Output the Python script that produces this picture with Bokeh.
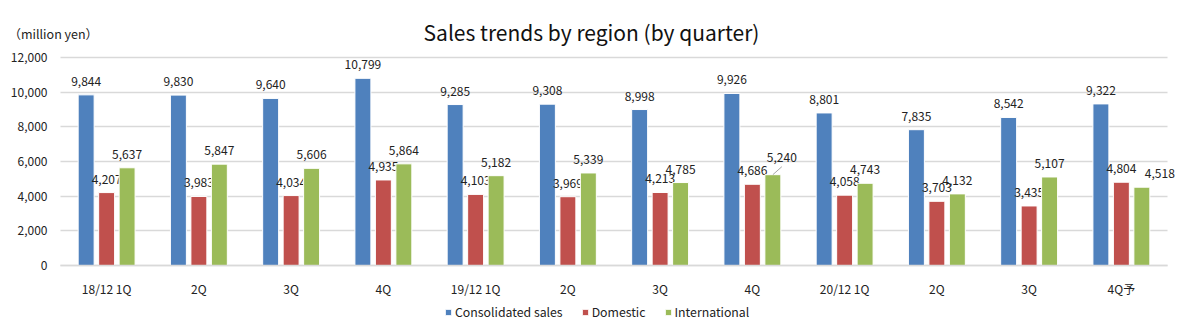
from bokeh.plotting import figure
from bokeh.models import (ColumnDataSource, Range1d, FixedTicker, Legend, LegendItem,
                          Label, NumeralTickFormatter)
from bokeh.embed import file_html
from bokeh.resources import INLINE
from bokeh.core.properties import value

# ---- data ----
quarters = ["18/12 1Q", "2Q", "3Q", "4Q", "19/12 1Q", "2Q", "3Q", "4Q",
            "20/12 1Q", "2Q", "3Q", "4Q予"]
consolidated = [9844, 9830, 9640, 10799, 9285, 9308, 8998, 9926, 8801, 7835, 8542, 9322]
domestic = [4207, 3983, 4034, 4935, 4103, 3969, 4213, 4686, 4058, 3703, 3435, 4804]
international = [5637, 5847, 5606, 5864, 5182, 5339, 4785, 5240, 4743, 4132, 5107, 4518]
series_names = ["Consolidated sales", "Domestic", "International"]
y_ticks = [0, 2000, 4000, 6000, 8000, 10000, 12000]

# ---- layout / style ----
W, H = 1195, 326
PL, PR, PT, PB = 60, 1167, 57, 265          # plot-area box in canvas pixels
Y_MAX = 12000
n = len(quarters)
px_x = (PR - PL) / n
px_y = (PB - PT) / Y_MAX
FONT = "Noto Sans CJK JP"
TXT = "#222222"
GRID = "#d9d9d9"
colors = ["#4F81BD", "#C0504D", "#9BBB59"]
offsets = [-0.222, 0.0, 0.222]
bar_w = 0.173
# label nudges (screen px) for overlapping labels: (series, index) -> (dx, dy)
nudges = {(2, 7): (9, -17.5), (2, 11): (18, -13.5)}

x_start = -0.5 - PL / px_x
x_end = n - 0.5 + (W - PR) / px_x
y_start = -(H - PB) / px_y
y_end = Y_MAX + PT / px_y

p = figure(width=W, height=H, output_backend="svg", toolbar_location=None,
           x_range=Range1d(x_start, x_end), y_range=Range1d(y_start, y_end),
           min_border=0)
p.outline_line_color = None
p.background_fill_color = "white"
p.border_fill_color = "white"
p.grid.visible = False

renderers = []
for s, vals in enumerate([consolidated, domestic, international]):
    xs = [i + offsets[s] for i in range(n)]
    src = ColumnDataSource(dict(x=xs, top=vals))
    r = p.vbar(x="x", top="top", width=bar_w, bottom=0, source=src,
               fill_color=colors[s], line_color="white", line_width=1)
    renderers.append(r)
    dx = [nudges.get((s, i), (0, -13.5))[0] for i in range(n)]
    dy = [nudges.get((s, i), (0, -13.5))[1] for i in range(n)]
    lsrc = ColumnDataSource(dict(x=xs, y=vals, t=[f"{v:,}" for v in vals], dx=dx, dy=dy))
    p.text(x="x", y="y", text="t", x_offset="dx", y_offset="dy", source=lsrc,
           text_align="center", text_baseline="middle", text_font=value(FONT),
           text_font_size="12px", text_color=TXT)

# leader line for the lifted label
for (s, i), (ddx, ddy) in nudges.items():
    if ddy < -14:
        vals = [consolidated, domestic, international][s]
        x0 = i + offsets[s]
        p.segment(x0=[x0], y0=[vals[i]], x1=[x0 + ddx / px_x],
                  y1=[vals[i] + 8 / px_y], line_color="#a6a6a6", line_width=1)

# x axis pinned at y=0
xa = p.xaxis[0]
xa.fixed_location = 0
xa.bounds = (-0.5, n - 0.5)
xa.ticker = FixedTicker(ticks=list(range(n)))
xa.major_label_overrides = {i: q for i, q in enumerate(quarters)}
xa.major_tick_line_color = None
xa.minor_tick_line_color = None
xa.axis_line_color = GRID
xa.axis_line_width = 1.5
xa.major_label_text_font = FONT
xa.major_label_text_font_size = "12px"
xa.major_label_text_color = TXT
xa.major_label_standoff = 8

# y axis pinned at the plot-area left edge; its long inward ticks act as gridlines
ya = p.yaxis[0]
ya.fixed_location = -0.5
ya.ticker = FixedTicker(ticks=y_ticks)
ya.formatter = NumeralTickFormatter(format="0,0")
ya.axis_line_color = None
ya.minor_tick_line_color = None
ya.major_tick_line_color = GRID
ya.major_tick_line_width = 1.5
ya.major_tick_in = PR - PL
ya.major_tick_out = 0
ya.major_label_text_font = FONT
ya.major_label_text_font_size = "12px"
ya.major_label_text_color = TXT
ya.major_label_standoff = 13
ya.level = "underlay"

# title and unit label
p.add_layout(Label(x=591, y=H - 31, x_units="screen", y_units="screen",
                   text="Sales trends by region (by quarter)", text_align="center",
                   text_baseline="middle", text_font=FONT, text_font_size="21px",
                   text_color="#111111"))
p.add_layout(Label(x=8, y=H - 33, x_units="screen", y_units="screen",
                   text="（million yen）", text_align="left", text_baseline="middle",
                   text_font=FONT, text_font_size="12.5px", text_color=TXT))

legend = Legend(items=[LegendItem(label=nm, renderers=[r]) for nm, r in zip(series_names, renderers)],
                orientation="horizontal", location=(444, 5),
                glyph_width=8, glyph_height=8, label_text_font=FONT,
                label_text_font_size="12.3px", label_text_color=TXT,
                label_standoff=3, spacing=18, padding=0, margin=0,
                border_line_color=None, background_fill_alpha=0)
p.add_layout(legend)

open("out.html", "w").write(file_html(p, INLINE))
